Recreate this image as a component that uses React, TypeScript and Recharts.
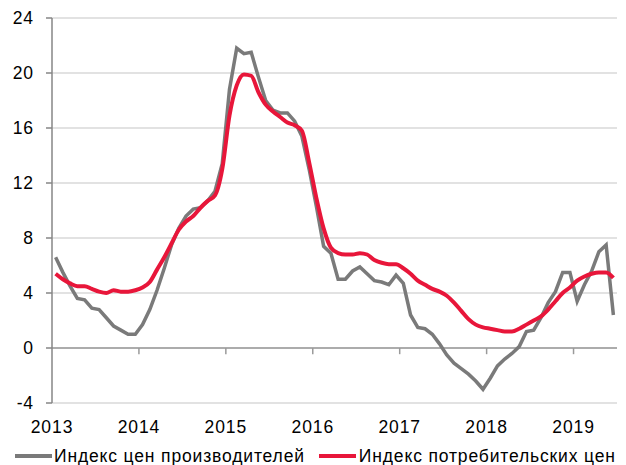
import React from 'react';
import { LineChart, Line, XAxis, YAxis, CartesianGrid, ReferenceLine } from 'recharts';

// monthly, Jan 2013 .. Jun 2019, % y/y
const ppi = [
  6.6, 5.5, 4.5, 3.6, 3.5, 2.9, 2.8, 2.2, 1.6, 1.3, 1.0, 1.0,
  1.7, 2.8, 4.2, 5.8, 7.5, 8.7, 9.6, 10.1, 10.2, 10.7, 11.4, 13.4,
  18.8, 21.8, 21.4, 21.5, 19.7, 18.0, 17.3, 17.1, 17.1, 16.5, 15.4, 13.0,
  10.3, 7.4, 6.9, 5.0, 5.0, 5.6, 5.9, 5.4, 4.9, 4.8, 4.6, 5.3,
  4.7, 2.4, 1.5, 1.4, 1.0, 0.3, -0.5, -1.1, -1.5, -1.9, -2.4, -3.0,
  -2.2, -1.3, -0.8, -0.4, 0.1, 1.2, 1.3, 2.2, 3.3, 4.1, 5.5, 5.5,
  3.4, 4.6, 5.6, 7.0, 7.5, 2.4,
];

const cpi = [
  5.4, 5.0, 4.7, 4.5, 4.5, 4.3, 4.1, 4.0, 4.2, 4.1, 4.1, 4.2,
  4.4, 4.8, 5.7, 6.6, 7.6, 8.6, 9.2, 9.6, 10.2, 10.7, 11.1, 13.0,
  16.9, 19.1, 19.9, 19.8, 18.6, 17.7, 17.2, 16.8, 16.4, 16.2, 15.8, 13.5,
  10.9, 8.7, 7.3, 6.9, 6.8, 6.8, 6.9, 6.8, 6.4, 6.2, 6.1, 6.1,
  5.8, 5.4, 4.9, 4.6, 4.3, 4.1, 3.8, 3.3, 2.7, 2.1, 1.7, 1.5,
  1.4, 1.3, 1.2, 1.2, 1.4, 1.7, 2.0, 2.3, 2.8, 3.4, 4.0, 4.4,
  4.9, 5.2, 5.4, 5.5, 5.5, 5.1,
];

const years = ['2013', '2014', '2015', '2016', '2017', '2018', '2019'];
const yTicks = [-4, 0, 4, 8, 12, 16, 20, 24];
const seriesNames = ['Индекс цен производителей', 'Индекс потребительских цен'];

const xTicks = years.map((_, i) => i * 12);
const data = ppi.map((v, i) => ({ x: i + 0.5, ppi: v, cpi: cpi[i] }));

const FONT = '"Liberation Sans", Arial, sans-serif';
const GRAY = '#7a7a7a';
const RED = '#e8163a';

export default function App() {
  return (
    <div style={{ position: 'absolute', left: 0, top: 0, width: 626, height: 465, background: '#fff', fontFamily: FONT, overflow: 'hidden' }}>
      <LineChart width={626} height={465} data={data} margin={{ top: 18, right: 9, left: 0, bottom: 32 }}>
        <CartesianGrid vertical={false} stroke="#d9d9d9" strokeWidth={1.5} />
        <XAxis
          type="number"
          dataKey="x"
          domain={[0, 78]}
          ticks={xTicks}
          tickFormatter={(v) => years[v / 12]}
          axisLine={false}
          tickLine={false}
          height={30}
          tick={{ fontSize: 17.5, fill: '#000', fontFamily: FONT, dy: 10, letterSpacing: 0.9 }}
          interval={0}
        />
        <YAxis
          domain={[-4, 24]}
          ticks={yTicks}
          width={52}
          axisLine={{ stroke: '#868686', strokeWidth: 1.5 }}
          tickLine={{ stroke: '#868686', strokeWidth: 1.5 }}
          tickSize={6}
          tickMargin={12}
          tick={{ fontSize: 17.5, fill: '#000', fontFamily: FONT, letterSpacing: 0.9 }}
          interval={0}
        />
        <ReferenceLine y={0} stroke="#9a9a9a" strokeWidth={1.5} />
        {xTicks.slice(1).map((t) => (
          <ReferenceLine key={t} segment={[{ x: t, y: 0 }, { x: t, y: -0.45 }]} stroke="#9a9a9a" strokeWidth={1.5} />
        ))}
        <Line type="linear" dataKey="ppi" stroke={GRAY} strokeWidth={3.5} dot={false} isAnimationActive={false} />
        <Line type="monotone" dataKey="cpi" stroke={RED} strokeWidth={4} dot={false} isAnimationActive={false} />
      </LineChart>
      <div style={{ position: 'absolute', top: 446, left: 15, whiteSpace: 'nowrap', fontSize: 17.5, letterSpacing: 0.85, lineHeight: '20px', color: '#000', display: 'flex', alignItems: 'center' }}>
        <span style={{ display: 'inline-block', width: 37, height: 4, background: GRAY, marginRight: 2 }} />
        <span>{seriesNames[0]}</span>
        <span style={{ display: 'inline-block', width: 37, height: 4, background: RED, marginLeft: 14, marginRight: 3 }} />
        <span>{seriesNames[1]}</span>
      </div>
    </div>
  );
}
